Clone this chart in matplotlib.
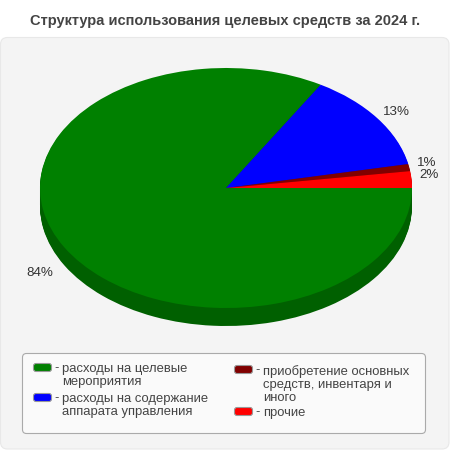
import matplotlib
matplotlib.use("Agg")
import matplotlib.pyplot as plt
from matplotlib.patches import FancyBboxPatch

plt.rcParams['font.family'] = ['Liberation Sans', 'DejaVu Sans']

title = "Структура использования целевых средств за 2024 г."
values = [83.5, 13.3, 0.95, 2.25]
pct_labels = ["84%", "13%", "1%", "2%"]
colors = ["#008000", "#0000ff", "#800000", "#ff0000"]
side_colors = ["#006000", "#0000c0", "#600000", "#c00000"]
legend_labels = ["расходы на целевые\nмероприятия",
                 "расходы на содержание\nаппарата управления",
                 "приобретение основных\nсредств, инвентаря и\nиного",
                 "прочие"]

W, H = 450, 450
fig = plt.figure(figsize=(W/100, H/100), dpi=100, facecolor="white")
bg = fig.add_axes([0, 0, 1, 1])
bg.set_xlim(0, W); bg.set_ylim(H, 0); bg.axis("off")

def rbox(ax, x0, y0, x1, y1, r, fc, ec, lw=1.0, z=1):
    ax.add_patch(FancyBboxPatch((x0+r, y0+r), x1-x0-2*r, y1-y0-2*r,
                 boxstyle=f"round,pad={r},rounding_size={r}", fc=fc, ec=ec, lw=lw, zorder=z))

bg.text(225, 21, title, ha="center", va="center", fontsize=10.5, fontweight="bold", color="#444444")
rbox(bg, 0.5, 37.5, 449, 449, 7, "#f4f4f4", "#e8e8e8", 0.8, 1)
rbox(bg, 22.5, 353.5, 425.5, 433.5, 4, "#fafafa", "#aaaaaa", 0.8, 2)

# legend
lx = [33.5, 33.5, 234.5, 234.5]
ly = [367.5, 397.5, 369.5, 411.5]
for x, y, c, lab in zip(lx, ly, colors, legend_labels):
    rbox(bg, x, y-4, x+18, y+4, 2.5, c, "#999999", 0.8, 3)
    bg.text(x+21, y+0.5, "-", ha="left", va="center", fontsize=9.4, color="#444444", zorder=3)
    bg.text(x+28.5, y-4.5, lab, ha="left", va="top", fontsize=9.4, color="#444444",
            linespacing=1.12, zorder=3)

# pie
cx, cy, rx, ry, depth = 226, 188, 186, 120, 18
pax = fig.add_axes([(cx-rx)/W, 1-(cy+ry+depth)/H, 2*rx/W, (2*ry+depth)/H])
pax.patch.set_alpha(0)
for d in range(depth, 0, -1):
    pax.pie(values, colors=side_colors, startangle=0, counterclock=False,
            center=(0, -d/ry), radius=1, wedgeprops=dict(lw=0), normalize=True)
pax.pie(values, colors=colors, startangle=0, counterclock=False,
        center=(0, 0), radius=1, wedgeprops=dict(lw=0), normalize=True)
pax.set_aspect("auto")
pax.set_xlim(-1, 1)
pax.set_ylim(-1-depth/ry, 1)
pax.axis("off")

lab_pos = [(39.5, 273.5), (396.5, 112), (426.5, 162.5), (429, 175.5)]
for (x, y), t in zip(lab_pos, pct_labels):
    bg.text(x, y, t, ha="center", va="center", fontsize=9.6, color="#333333", zorder=5)
bg.set_zorder(0); pax.set_zorder(1)
fig.savefig("out.png", dpi=100)
